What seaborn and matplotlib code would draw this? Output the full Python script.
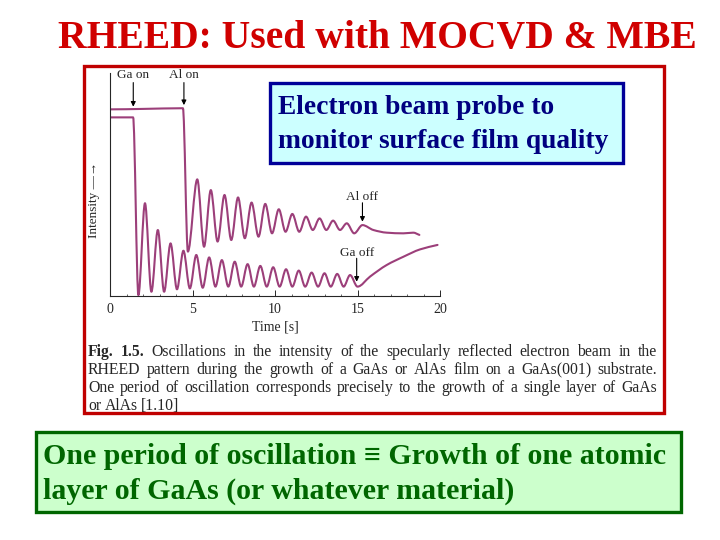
import numpy as np
import pandas as pd
import seaborn as sns
import matplotlib.pyplot as plt
from matplotlib.patches import Rectangle, PathPatch
from matplotlib.path import Path

# Datos (intensidad en unidades arbitrarias, 0-100)
t_alas = [0.0, 2.0, 4.42, 4.72, 5.29, 5.70, 6.11, 6.52, 6.94, 7.35, 7.76, 8.17,
          8.58, 9.00, 9.41, 9.82, 10.23, 10.64, 11.05, 11.47, 11.88, 12.29,
          12.70, 13.11, 13.52, 13.94, 14.35, 14.80, 15.30, 15.96, 16.77,
          17.78, 18.38, 18.75]
i_alas = [83.7, 83.9, 84.2, 19.9, 52.3, 22.1, 47.5, 24.4, 45.3, 25.1, 44.2, 25.9,
          41.9, 26.6, 41.3, 28.1, 38.9, 28.8, 36.8, 28.8, 35.6, 29.6,
          34.8, 29.6, 33.8, 29.6, 32.6, 28.1, 31.8, 29.6, 28.4,
          28.1, 28.4, 27.4]

t_gaas = [0.0, 1.40, 1.72, 2.12, 2.51, 2.90, 3.28, 3.67, 4.06, 4.45, 4.84, 5.23,
          5.62, 6.01, 6.39, 6.78, 7.17, 7.56, 7.95, 8.34, 8.72, 9.11, 9.50,
          9.89, 10.28, 10.67, 11.05, 11.44, 11.83, 12.22, 12.61, 13.00, 13.38,
          13.77, 14.16, 14.55, 15.00, 15.76, 16.77, 17.78, 18.79, 19.85]
i_gaas = [80.1, 80.1, 0.4, 41.6, 1.9, 29.6, 1.9, 23.6, 3.0, 20.3, 3.4, 18.4,
          3.7, 17.3, 4.2, 16.1, 4.2, 15.4, 4.2, 14.3, 4.2, 13.5, 4.2,
          12.9, 4.2, 12.0, 4.2, 11.4, 4.2, 10.5, 4.2, 10.2, 4.2,
          9.9, 4.2, 9.4, 4.2, 8.7, 13.9, 17.6, 20.9, 22.9]

x_ticks = [0, 5, 10, 15, 20]

# (texto, t, y_texto, y_inicio_flecha, y_punta_flecha)
eventos = [('Ga on', 1.41, 99.0, 95.7, 84.9),
           ('Al on', 4.48, 99.0, 95.7, 85.6),
           ('Al off', 15.3, 44.5, 41.8, 33.3),
           ('Ga off', 14.95, 19.4, 16.9, 6.4)]

titulo = 'RHEED: Used with MOCVD & MBE'
texto_azul = ['Electron beam probe to', 'monitor surface film quality']
texto_verde = ['One period of oscillation \u2261 Growth of one atomic',
               'layer of GaAs (or whatever material)']
leyenda = ['Fig. 1.5. Oscillations in the intensity of the specularly reflected electron beam in the',
           'RHEED pattern during the growth of a GaAs or AlAs film on a GaAs(001) substrate.',
           'One period of oscillation corresponds precisely to the growth of a single layer of GaAs',
           'or AlAs [1.10]']

df = pd.concat([
    pd.DataFrame({'Time': t_alas, 'Intensity': i_alas, 'film': 'AlAs'}),
    pd.DataFrame({'Time': t_gaas, 'Intensity': i_gaas, 'film': 'GaAs'}),
])

sns.set_style('ticks')
plt.rcParams['font.family'] = ['Liberation Serif', 'DejaVu Serif']

W, H = 720, 540
fig = plt.figure(figsize=(7.2, 5.4), dpi=100)
fig.patch.set_facecolor('white')


def fx(px):
    return px / W


def fy(py):
    return 1 - py / H


def suavizar(ax, linea):
    # dibuja la linea de seaborn como curva suave (bezier, tangentes monotonas)
    x, y = [np.asarray(v, float) for v in linea.get_data()]
    n = len(x)
    h = np.diff(x)
    d = np.diff(y) / h
    m = np.zeros(n)
    for k in range(1, n - 1):
        if d[k - 1] * d[k] > 0:
            w1 = 2 * h[k] + h[k - 1]
            w2 = h[k] + 2 * h[k - 1]
            m[k] = (w1 + w2) / (w1 / d[k - 1] + w2 / d[k])
    m[-1] = d[-1]
    verts = [(x[0], y[0])]
    codes = [Path.MOVETO]
    for k in range(n - 1):
        verts += [(x[k] + h[k] / 3, y[k] + m[k] * h[k] / 3),
                  (x[k + 1] - h[k] / 3, y[k + 1] - m[k + 1] * h[k] / 3),
                  (x[k + 1], y[k + 1])]
        codes += [Path.CURVE4] * 3
    ax.add_patch(PathPatch(Path(verts, codes), facecolor='none',
                           edgecolor=linea.get_color(), lw=linea.get_linewidth(),
                           joinstyle='round', capstyle='round'))
    linea.remove()


# Cajas del diapositiva (detras del grafico)
fig.patches.append(Rectangle((fx(84), fy(413)), fx(664) - fx(84), fy(66) - fy(413),
                             transform=fig.transFigure, facecolor='white',
                             edgecolor='#C00000', lw=2.4, zorder=-2))
fig.patches.append(Rectangle((fx(36), fy(512)), fx(681) - fx(36), fy(432) - fy(512),
                             transform=fig.transFigure, facecolor='#CCFFCC',
                             edgecolor='#006600', lw=2.4, zorder=-2))

fig.text(fx(377), fy(48), titulo, ha='center', va='baseline', fontsize=28.5,
         fontweight='bold', color='#D00000')

# Grafico
ax = fig.add_axes([fx(110), fy(296), fx(440) - fx(110), fy(73) - fy(296)])
ax.set_zorder(1)
ax.set_facecolor('none')
sns.lineplot(data=df, x='Time', y='Intensity', units='film', estimator=None,
             color='#9C3F7A', lw=1.5, ax=ax, legend=False, sort=False)
for linea in list(ax.lines):
    suavizar(ax, linea)
ax.set_xlim(0, 20)
ax.set_ylim(0, 100)
ax.set_xticks(x_ticks)
ax.set_xticks(range(0, 21), minor=True)
ax.set_yticks([])
ax.tick_params(axis='x', direction='in', length=4, width=0.7, labelsize=10, pad=5)
ax.tick_params(axis='x', which='minor', direction='in', length=1.5, width=0.5)
ax.set_xlabel('Time [s]', fontsize=10, labelpad=3)
ax.set_ylabel('')
ax.text(-0.05, 0.43, 'Intensity \u2014\u2192', transform=ax.transAxes, rotation=90,
        ha='center', va='center', fontsize=9.5)
sns.despine(ax=ax)
for s in ['left', 'bottom']:
    ax.spines[s].set_linewidth(0.8)

for txt, t, yt, y0, y1 in eventos:
    ax.text(t, yt, txt, ha='center', va='center', fontsize=9.5, clip_on=False)
    ax.annotate('', xy=(t, y1), xytext=(t, y0),
                arrowprops=dict(arrowstyle='-|>', lw=0.8, color='black',
                                mutation_scale=7, shrinkA=0, shrinkB=0),
                annotation_clip=False)

# Caja azul encima del grafico
fig.patches.append(Rectangle((fx(270), fy(163)), fx(623) - fx(270), fy(83) - fy(163),
                             transform=fig.transFigure, facecolor='#CCFFFF',
                             edgecolor='#000099', lw=2.4, zorder=5))
for k, linea in enumerate(texto_azul):
    fig.text(fx(278), fy(108 + 33 * k), linea, ha='left', va='center',
             fontsize=19.8, fontweight='bold', color='#000080', zorder=6)

for k, linea in enumerate(texto_verde):
    fig.text(fx(43), fy(457 + 34 * k), linea, ha='left', va='center',
             fontsize=21.5, fontweight='bold', color='#006600')

# Pie de figura justificado
fig.canvas.draw()
rend = fig.canvas.get_renderer()
for k, linea in enumerate(leyenda):
    palabras = linea.split(' ')
    y = fy(356 + 18 * k)
    textos = []
    for j, p in enumerate(palabras):
        peso = 'bold' if (k == 0 and j < 2) else 'normal'
        textos.append(fig.text(0, y, p, ha='left', va='baseline', fontsize=11.3,
                               fontweight=peso))
    anchos = [tx.get_window_extent(rend).width for tx in textos]
    if k == len(leyenda) - 1:
        hueco = 3.5
    else:
        hueco = (657 - 88 - sum(anchos)) / (len(palabras) - 1)
    x = 88
    for tx, a in zip(textos, anchos):
        tx.set_x(fx(x))
        x += a + hueco

fig.savefig('out.png', dpi=100)
